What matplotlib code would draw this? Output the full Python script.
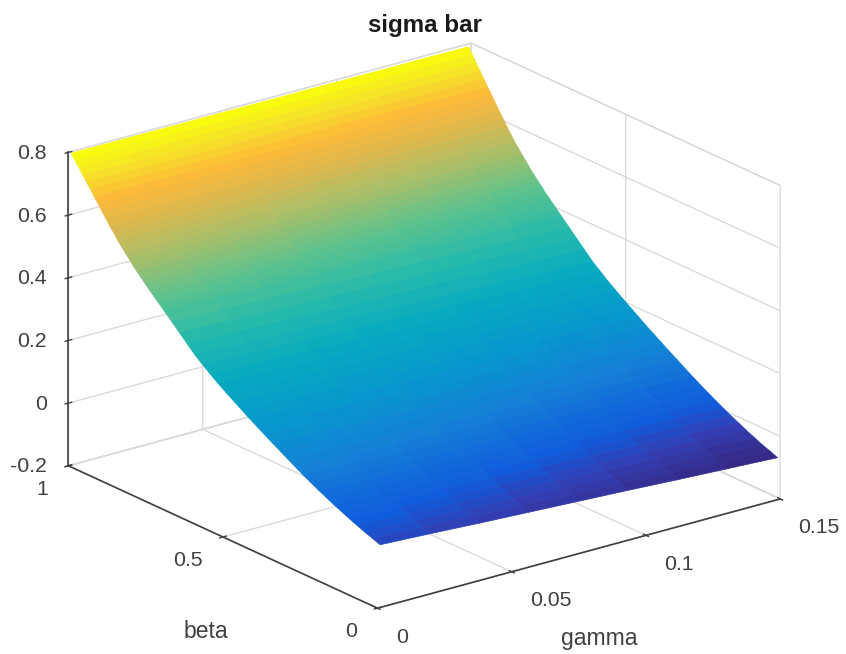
# surface of sigma bar over gamma and beta

import numpy as np
import matplotlib
matplotlib.use('Agg')
import matplotlib.pyplot as plt
from matplotlib.colors import LinearSegmentedColormap

plt.rcParams['font.family'] = ['Liberation Sans', 'DejaVu Sans']

gamma = [0.001, 0.0195, 0.038, 0.0565, 0.075, 0.0935, 0.112, 0.1305, 0.149]
beta = [0, 0.025, 0.05, 0.075, 0.1, 0.125, 0.15, 0.175, 0.2, 0.225,
        0.25, 0.275, 0.3, 0.325, 0.35, 0.375, 0.4, 0.425, 0.45, 0.475,
        0.5, 0.525, 0.55, 0.575, 0.6, 0.625, 0.65, 0.675, 0.7, 0.7125,
        0.725, 0.7375, 0.75, 0.7625, 0.775, 0.7875, 0.8, 0.8125, 0.825, 0.8375,
        0.85, 0.8625, 0.875, 0.8875, 0.9, 0.9125, 0.925, 0.9375, 0.95, 0.9625,
        0.975, 0.9875, 1]

# one row per beta, one column per gamma
sigma_bar = [
    [0.000, -0.008, -0.017, -0.025, -0.033, -0.041, -0.050, -0.058, -0.066],
    [0.009, 0.001, -0.007, -0.015, -0.024, -0.032, -0.040, -0.048, -0.056],
    [0.018, 0.010, 0.002, -0.006, -0.015, -0.023, -0.031, -0.039, -0.047],
    [0.028, 0.020, 0.012, 0.004, -0.004, -0.012, -0.020, -0.028, -0.036],
    [0.038, 0.030, 0.022, 0.014, 0.007, -0.001, -0.009, -0.017, -0.025],
    [0.049, 0.041, 0.034, 0.026, 0.018, 0.010, 0.003, -0.005, -0.013],
    [0.060, 0.052, 0.045, 0.037, 0.030, 0.022, 0.014, 0.007, -0.001],
    [0.072, 0.065, 0.057, 0.050, 0.042, 0.035, 0.027, 0.020, 0.012],
    [0.084, 0.077, 0.069, 0.062, 0.055, 0.047, 0.040, 0.032, 0.025],
    [0.097, 0.090, 0.083, 0.075, 0.068, 0.061, 0.054, 0.046, 0.039],
    [0.110, 0.103, 0.096, 0.089, 0.082, 0.074, 0.067, 0.060, 0.053],
    [0.124, 0.117, 0.110, 0.103, 0.096, 0.089, 0.082, 0.075, 0.068],
    [0.138, 0.131, 0.124, 0.117, 0.111, 0.104, 0.097, 0.090, 0.083],
    [0.153, 0.146, 0.140, 0.133, 0.126, 0.119, 0.113, 0.106, 0.099],
    [0.167, 0.160, 0.154, 0.147, 0.141, 0.134, 0.127, 0.121, 0.114],
    [0.182, 0.176, 0.169, 0.163, 0.156, 0.150, 0.143, 0.137, 0.130],
    [0.197, 0.191, 0.184, 0.178, 0.172, 0.165, 0.159, 0.152, 0.146],
    [0.212, 0.206, 0.200, 0.193, 0.187, 0.181, 0.175, 0.168, 0.162],
    [0.228, 0.222, 0.216, 0.210, 0.204, 0.197, 0.191, 0.185, 0.179],
    [0.244, 0.238, 0.232, 0.226, 0.220, 0.214, 0.208, 0.202, 0.196],
    [0.260, 0.254, 0.248, 0.242, 0.237, 0.231, 0.225, 0.219, 0.213],
    [0.277, 0.271, 0.266, 0.260, 0.254, 0.248, 0.243, 0.237, 0.231],
    [0.295, 0.289, 0.284, 0.278, 0.272, 0.266, 0.261, 0.255, 0.249],
    [0.314, 0.308, 0.303, 0.297, 0.292, 0.286, 0.280, 0.275, 0.269],
    [0.334, 0.328, 0.323, 0.317, 0.312, 0.306, 0.300, 0.295, 0.289],
    [0.358, 0.353, 0.347, 0.342, 0.336, 0.331, 0.325, 0.320, 0.314],
    [0.382, 0.377, 0.371, 0.366, 0.360, 0.355, 0.349, 0.344, 0.338],
    [0.406, 0.401, 0.395, 0.390, 0.385, 0.379, 0.374, 0.368, 0.363],
    [0.430, 0.425, 0.419, 0.414, 0.409, 0.403, 0.398, 0.392, 0.387],
    [0.442, 0.437, 0.431, 0.426, 0.421, 0.415, 0.410, 0.405, 0.400],
    [0.453, 0.448, 0.443, 0.438, 0.433, 0.427, 0.422, 0.417, 0.412],
    [0.465, 0.460, 0.455, 0.450, 0.445, 0.440, 0.435, 0.430, 0.425],
    [0.477, 0.472, 0.467, 0.462, 0.457, 0.452, 0.447, 0.442, 0.437],
    [0.490, 0.485, 0.480, 0.475, 0.470, 0.465, 0.460, 0.456, 0.451],
    [0.502, 0.497, 0.493, 0.488, 0.483, 0.478, 0.474, 0.469, 0.464],
    [0.515, 0.511, 0.506, 0.502, 0.497, 0.492, 0.488, 0.483, 0.478],
    [0.528, 0.524, 0.519, 0.515, 0.510, 0.506, 0.501, 0.497, 0.492],
    [0.543, 0.538, 0.534, 0.530, 0.525, 0.521, 0.517, 0.512, 0.508],
    [0.557, 0.553, 0.549, 0.544, 0.540, 0.536, 0.532, 0.527, 0.523],
    [0.572, 0.568, 0.564, 0.560, 0.556, 0.552, 0.548, 0.543, 0.539],
    [0.587, 0.583, 0.579, 0.575, 0.571, 0.567, 0.563, 0.559, 0.555],
    [0.604, 0.600, 0.596, 0.592, 0.588, 0.585, 0.581, 0.577, 0.573],
    [0.620, 0.616, 0.613, 0.609, 0.606, 0.602, 0.598, 0.595, 0.591],
    [0.638, 0.634, 0.631, 0.628, 0.624, 0.621, 0.617, 0.614, 0.611],
    [0.655, 0.652, 0.649, 0.646, 0.643, 0.639, 0.636, 0.633, 0.630],
    [0.673, 0.670, 0.667, 0.664, 0.661, 0.658, 0.656, 0.653, 0.650],
    [0.690, 0.688, 0.685, 0.683, 0.680, 0.678, 0.675, 0.673, 0.670],
    [0.708, 0.706, 0.703, 0.701, 0.699, 0.697, 0.695, 0.692, 0.690],
    [0.725, 0.723, 0.721, 0.719, 0.718, 0.716, 0.714, 0.712, 0.710],
    [0.743, 0.741, 0.739, 0.738, 0.736, 0.735, 0.733, 0.732, 0.730],
    [0.760, 0.759, 0.758, 0.756, 0.755, 0.754, 0.753, 0.751, 0.750],
    [0.778, 0.777, 0.776, 0.775, 0.774, 0.773, 0.772, 0.771, 0.771],
    [0.795, 0.795, 0.794, 0.794, 0.793, 0.793, 0.792, 0.792, 0.791],
]

gamma_ticks = [0, 0.05, 0.1, 0.15]
gamma_labels = ['0', '0.05', '0.1', '0.15']
beta_ticks = [0, 0.5, 1]
beta_labels = ['0', '0.5', '1']
z_ticks = [-0.2, 0, 0.2, 0.4, 0.6, 0.8]
z_labels = ['-0.2', '0', '0.2', '0.4', '0.6', '0.8']

parula_stops = [
    (0.00, (0.208, 0.166, 0.529)),
    (0.05, (0.20, 0.24, 0.70)),
    (0.10, (0.06, 0.36, 0.86)),
    (0.20, (0.08, 0.50, 0.84)),
    (0.30, (0.02, 0.60, 0.80)),
    (0.40, (0.03, 0.67, 0.75)),
    (0.50, (0.15, 0.73, 0.67)),
    (0.60, (0.35, 0.76, 0.56)),
    (0.70, (0.64, 0.75, 0.42)),
    (0.80, (0.87, 0.72, 0.30)),
    (0.875, (0.99, 0.73, 0.22)),
    (0.95, (0.96, 0.90, 0.15)),
    (1.00, (0.976, 0.984, 0.055)),
]
parula = LinearSegmentedColormap.from_list('parula', parula_stops, N=256)

fig = plt.figure(figsize=(8.46, 6.54), dpi=100)
ax = fig.add_axes([-7.5/846, -7.5/654, 1, 1], projection='3d', proj_type='ortho')
ax.view_init(elev=20.7, azim=-127.5)
ax.set_box_aspect((1, 1, 0.66), zoom=1.176)

G, B = np.meshgrid(gamma, beta)
surf = ax.plot_surface(G, B, np.array(sigma_bar), cmap=parula, shade=False,
                       rstride=1, cstride=1, linewidth=0.5)
surf.set_edgecolor('face')
surf.set_clip_on(False)

ax.set_xlim(0, 0.15, view_margin=0)
ax.set_ylim(0, 1, view_margin=0)
ax.set_zlim(-0.2, 0.8, view_margin=0)

ax.set_xticks(gamma_ticks, gamma_labels)
ax.set_yticks(beta_ticks, beta_labels)
ax.set_zticks(z_ticks, z_labels)

for axis in [ax.xaxis, ax.yaxis, ax.zaxis]:
    axis.set_pane_color((1, 1, 1, 1))
    axis.pane.set_edgecolor('0.85')
    axis.line.set_color('0.25')
    axis.line.set_linewidth(1.2)
    axis._axinfo['grid']['color'] = '0.86'
    axis._axinfo['grid']['linewidth'] = 1.0
    axis._axinfo['tick']['inward_factor'] = 0.1
    axis._axinfo['tick']['outward_factor'] = 0.1
    axis._axinfo['tick']['linewidth'] = {True: 1.0, False: 1.0}
    axis._axinfo['tick']['color'] = '0.25'
ax.tick_params(labelsize=15.3, colors='0.25')
ax.tick_params(axis='x', pad=6.5)
ax.tick_params(axis='y', pad=4.5)
ax.tick_params(axis='z', pad=-0.5)
for t in ax.xaxis.get_ticklabels():
    t.set_ha('left')
    t.set_va('center_baseline')
for t in ax.yaxis.get_ticklabels():
    t.set_ha('right')
    t.set_va('center_baseline')
for t in ax.zaxis.get_ticklabels():
    t.set_ha('right')
    t.set_va('center_baseline')

fig.text(599/846, 1-638/654, 'gamma', fontsize=16.5, color='0.25', ha='center', va='center')
fig.text(206/846, 1-631/654, 'beta', fontsize=16.5, color='0.25', ha='center', va='center')
fig.text(425/846, 1-32/654, 'sigma bar', fontsize=17.4, fontweight='bold', color='0.1',
         ha='center', va='baseline')

fig.savefig('out.png', dpi=100)
